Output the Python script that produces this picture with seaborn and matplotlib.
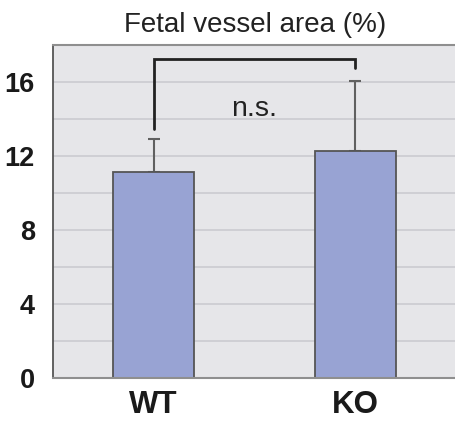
import matplotlib
matplotlib.use("Agg")
import matplotlib.pyplot as plt
import seaborn as sns
import pandas as pd

groups = ["WT", "KO"]
means = [11.15, 12.27]
errors = [1.75, 3.8]
yticks = [0, 4, 8, 12, 16]
title = "Fetal vessel area (%)"
sig_label = "n.s."
bracket_top = 17.25
bracket_left_bottom = 13.45
bracket_right_bottom = 16.75

sns.set_style("white")
plt.rcParams['font.family'] = ['Liberation Sans', 'DejaVu Sans']

df = pd.DataFrame({"group": groups, "value": means})

fig = plt.figure(figsize=(4.56, 4.22), dpi=100)
ax = fig.add_axes([0.1162, 0.1043, 0.884, 0.789])
ax.set_facecolor("#e6e6e9")

for y in range(2, 18, 2):
    ax.axhline(y, color="#cdcdd2", lw=1.3, zorder=0.5)

sns.barplot(data=df, x="group", y="value", order=groups, color="#98a3d3",
            width=0.4, edgecolor="#555555", linewidth=1.3, errorbar=None,
            saturation=1, ax=ax, zorder=2)

ax.errorbar(range(len(groups)), means, yerr=[[0] * len(errors), errors],
            fmt="none", ecolor="#606060", elinewidth=1.5, capsize=4,
            capthick=1.5, zorder=1.5)

ax.plot([0, 0, 1, 1], [bracket_left_bottom, bracket_top, bracket_top, bracket_right_bottom],
        color="#222222", lw=2, solid_joinstyle="miter", zorder=3)
ax.text(0.5, 14.55, sig_label, ha="center", va="center", fontsize=20.5, color="#222222")

ax.set_xlim(-0.5, 1.5)
ax.set_ylim(0, 18)
ax.set_yticks(yticks)
ax.set_yticklabels([str(t) for t in yticks], fontsize=19.5, fontweight="bold", color="#1a1a1a")
ax.set_xticks(range(len(groups)))
ax.set_xticklabels(groups, fontsize=22.5, fontweight="bold", color="#1a1a1a")
ax.tick_params(axis="both", length=0)
ax.tick_params(axis="y", pad=13)
ax.tick_params(axis="x", pad=9)
ax.set_xlabel("")
ax.set_ylabel("")

for side in ["top", "bottom"]:
    ax.spines[side].set_color("#8f8f8f")
    ax.spines[side].set_linewidth(1.5)
ax.spines["left"].set_color("#555555")
ax.spines["left"].set_linewidth(1.3)
ax.spines["right"].set_visible(False)

fig.text(0.5598, 0.94, title, ha="center", va="center", fontsize=20, color="#222222")

fig.savefig("out.png", dpi=100)
